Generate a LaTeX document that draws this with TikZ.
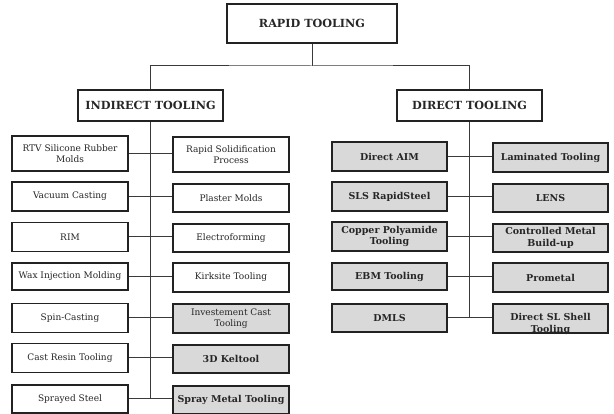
\documentclass[tikz,border=0pt]{standalone}
\usepackage{fontspec}
\setmainfont{DejaVu Serif}
\definecolor{boxgray}{HTML}{D9D9D9}
\definecolor{linecol}{HTML}{222222}
\definecolor{conncol}{HTML}{3A3A3A}
\begin{document}
\begin{tikzpicture}[x=1pt,y=-1pt,
  base/.style={draw=linecol,line width=1.8pt,inner sep=1pt,align=center,text=black!85},
  head/.style={base,font=\fontsize{11.2}{12}\selectfont\bfseries},
  ibox/.style={base,fill=white,minimum width=116pt,minimum height=29pt,font=\fontsize{9}{11.5}\selectfont},
  gbox/.style={ibox,fill=boxgray},
  gboldbox/.style={ibox,fill=boxgray,font=\fontsize{9.5}{11.5}\selectfont\bfseries},
  dbox/.style={base,fill=boxgray,minimum width=115pt,minimum height=29pt,font=\fontsize{9.5}{11.5}\selectfont\bfseries},
  dtext/.style={align=center,inner sep=0pt,font=\fontsize{9.5}{11.5}\selectfont\bfseries,text=black!85},
  conn/.style={draw=conncol,line width=1pt}
]
\useasboundingbox (0,0) rectangle (614,414);
\fill[white] (0,0) rectangle (614,414);

% top levels
\node[head,minimum width=170pt,minimum height=39pt] (root) at (312,23.5) {RAPID TOOLING};
\node[head,minimum width=145pt,minimum height=31pt] (ind) at (150.5,105.5) {INDIRECT TOOLING};
\node[head,minimum width=145pt,minimum height=31pt] (dir) at (469.5,105.5) {DIRECT TOOLING};
\coordinate (bus) at (312,66);
\draw[conn] (root.south) -- (bus);
\draw[conn] (ind.north) |- (bus) -| (dir.north);

% indirect tooling, left column
\node[ibox,minimum height=35pt] (l1) at (70,153.5) {RTV Silicone Rubber\\Molds};
\node[ibox] (l2) at (70,196.5) {Vacuum Casting};
\node[ibox] (l3) at (70,237) {RIM};
\node[ibox,minimum height=27pt] (l4) at (70,276.5) {Wax Injection Molding};
\node[ibox] (l5) at (70,318) {Spin-Casting};
\node[ibox] (l6) at (70,358) {Cast Resin Tooling};
\node[ibox,minimum height=28pt] (l7) at (70,399) {Sprayed Steel};

% indirect tooling, right column
\node[ibox,minimum height=35pt] (r1) at (231,154.5) {Rapid Solidification\\Process};
\node[ibox,minimum height=28pt] (r2) at (231,198) {Plaster Molds};
\node[ibox,minimum height=28pt] (r3) at (231,238) {Electroforming};
\node[ibox] (r4) at (231,277.5) {Kirksite Tooling};
\node[gbox] (r5) at (231,318.5) {Investement Cast\\Tooling};
\node[gboldbox,minimum height=28pt] (r6) at (231,359) {3D Keltool};
\node[gboldbox,minimum height=28pt] (r7) at (231,400) {Spray Metal Tooling};

% direct tooling, left column
\node[dbox] (dl1) at (389.5,156.5) {Direct AIM};
\node[dbox] (dl2) at (389.5,196.5) {SLS RapidSteel};
\node[dbox] (dl3) at (389.5,236.5) {Copper Polyamide\\Tooling};
\node[dbox,minimum height=27pt] (dl4) at (389.5,276.5) {EBM Tooling};
\node[dbox,minimum height=28pt] (dl5) at (389.5,318) {DMLS};

% direct tooling, right column
\node[dbox] (dr1) at (550.5,157.5) {Laminated Tooling};
\node[dbox,minimum height=28pt] (dr2) at (550.5,198) {LENS};
\node[dbox,minimum height=28pt] (dr3) at (550.5,238) {Controlled Metal\\Build-up};
\node[dbox] (dr4) at (550.5,277.5) {Prometal};
\node[dbox] (dr5) at (550.5,318.5) {};
\node[dtext] (dr5t) at (550.5,324) {Direct SL Shell\\Tooling};

% spines
\draw[conn] (ind.south) -- (ind.south |- l7.east);
\draw[conn] (dir.south) -- (dir.south |- dl5.east);

% branches
\foreach \i in {1,...,7}{
  \draw[conn] (l\i.east) -- (l\i.east -| r\i.west);
}
\foreach \i in {1,...,5}{
  \draw[conn] (dl\i.east) -- (dl\i.east -| dr\i.west);
}
\end{tikzpicture}
\end{document}
